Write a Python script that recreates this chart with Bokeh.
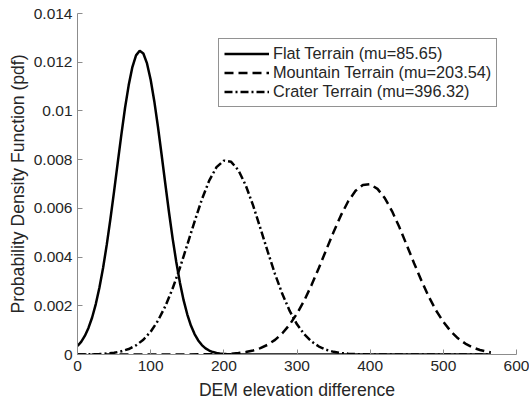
from bokeh.plotting import figure
from bokeh.models import FixedTicker, Legend, LegendItem, Range1d
from bokeh.embed import file_html
from bokeh.resources import INLINE

# ---- data ----
flat_x = [0, 5, 10, 15, 20, 25, 30, 35, 40, 45, 50, 55, 60, 65, 70, 75, 80, 85, 90, 95,
          100, 105, 110, 115, 120, 125, 130, 135, 140, 145, 150, 155, 160, 165, 170, 175,
          180, 185, 190, 195, 200, 210, 220, 565]
flat_y = [0.000347, 0.000521, 0.000763, 0.00109, 0.00152, 0.00207, 0.00275, 0.00356,
          0.00451, 0.00557, 0.0067, 0.00788, 0.00904, 0.01013, 0.01106, 0.0118, 0.01228,
          0.01247, 0.01236, 0.01195, 0.01128, 0.01039, 0.00934, 0.00819, 0.00701, 0.00585,
          0.00477, 0.0038, 0.00295, 0.00223, 0.00165, 0.00119, 0.00084, 0.000576, 0.000387,
          0.000253, 0.000162, 0.000101, 0.000061, 0.000036, 0.000021, 0.000006, 0.000002, 0.0]

# dash-dot curve (peak near 203)
dd_x = [0, 10, 20, 30, 40, 50, 60, 70, 80, 90, 100, 110, 120, 130, 140, 150, 160, 170, 180,
        190, 200, 210, 220, 230, 240, 250, 260, 270, 280, 290, 300, 310, 320, 330, 340, 350,
        360, 370, 380, 390, 400, 410, 420, 565]
dd_y = [0.000002, 0.0000044, 0.0000095, 0.0000193, 0.0000379, 0.0000715, 0.00013, 0.000225,
        0.000377, 0.000606, 0.000935, 0.00139, 0.00198, 0.00271, 0.00356, 0.0045, 0.00546,
        0.00637, 0.00714, 0.00769, 0.00796, 0.00791, 0.00756, 0.00694, 0.00612, 0.00518,
        0.00422, 0.0033, 0.00248, 0.00179, 0.00124, 0.000827, 0.00053, 0.000326, 0.000193,
        0.000109, 0.0000597, 0.0000313, 0.0000157, 0.0000076, 0.0000036, 0.0000016, 0.0, 0.0]

# dashed curve (peak near 396)
da_x = [0, 150, 200, 210, 220, 230, 240, 250, 260, 270, 280, 290, 300, 310, 320, 330, 340,
        350, 360, 370, 380, 390, 400, 410, 420, 430, 440, 450, 460, 470, 480, 490, 500, 510,
        520, 530, 540, 550, 560, 565]
da_y = [0.0, 0.0000006, 0.0000186, 0.0000335, 0.0000585, 0.0000993, 0.000163, 0.00026,
        0.000401, 0.0006, 0.000873, 0.00123, 0.00168, 0.00222, 0.00286, 0.00356, 0.0043,
        0.00503, 0.00571, 0.00629, 0.00672, 0.00696, 0.00699, 0.0068, 0.00642, 0.00588,
        0.00522, 0.00449, 0.00375, 0.00304, 0.00238, 0.00181, 0.00134, 0.000958, 0.000665,
        0.000447, 0.000292, 0.000185, 0.000113, 0.0000878]

legend_labels = ["Flat Terrain (mu=85.65)", "Mountain Terrain (mu=203.54)",
                 "Crater Terrain (mu=396.32)"]
x_ticks = [0, 100, 200, 300, 400, 500, 600]
y_ticks = [0, 0.002, 0.004, 0.006, 0.008, 0.01, 0.012, 0.014]
y_tick_labels = ["0", "0.002", "0.004", "0.006", "0.008", "0.01", "0.012", "0.014"]

FONT = "Liberation Sans"
TXT = "#262626"
AX = "#8c8c8c"

p = figure(width=529, height=405, output_backend="svg", toolbar_location=None,
           x_range=Range1d(0, 600), y_range=Range1d(0, 0.014),
           min_border_left=77, min_border_right=13, min_border_top=13, min_border_bottom=51)
p.outline_line_color = None
p.xgrid.visible = False
p.ygrid.visible = False
p.background_fill_color = "white"
p.border_fill_color = "white"

r_flat = p.line(flat_x, flat_y, line_color="black", line_width=2.5)
r_da = p.line(da_x, da_y, line_color="black", line_width=2.5, line_dash="9 5")
r_dd = p.line(dd_x, dd_y, line_color="black", line_width=2.5, line_dash="8 3 2 3")

for ax in (p.xaxis[0], p.yaxis[0]):
    ax.axis_line_color = AX
    ax.axis_line_width = 1
    ax.major_tick_line_color = AX
    ax.major_tick_in = 5
    ax.major_tick_out = 0
    ax.minor_tick_line_color = None
    ax.major_label_text_font = FONT
    ax.major_label_text_font_size = "15.5px"
    ax.major_label_text_color = TXT
    ax.axis_label_text_font = FONT
    ax.axis_label_text_font_size = "17.6px"
    ax.axis_label_text_font_style = "normal"
    ax.axis_label_text_color = TXT

p.xaxis[0].ticker = FixedTicker(ticks=x_ticks)
p.yaxis[0].ticker = FixedTicker(ticks=y_ticks)
p.yaxis[0].major_label_overrides = {t: s for t, s in zip(y_ticks, y_tick_labels)}
p.xaxis[0].axis_label = "DEM elevation difference"
p.yaxis[0].axis_label = "Probability Density Function (pdf)"
p.xaxis[0].major_label_standoff = 6
p.yaxis[0].major_label_standoff = 5
p.xaxis[0].axis_label_standoff = 6
p.yaxis[0].axis_label_standoff = 3

legend = Legend(items=[LegendItem(label=legend_labels[0], renderers=[r_flat]),
                       LegendItem(label=legend_labels[1], renderers=[r_da]),
                       LegendItem(label=legend_labels[2], renderers=[r_dd])],
                location=(141, 247))
legend.border_line_color = "#262626"
legend.border_line_width = 1
legend.background_fill_color = "white"
legend.background_fill_alpha = 1
legend.label_text_font = FONT
legend.label_text_font_size = "16.3px"
legend.label_text_color = TXT
legend.glyph_width = 45
legend.glyph_height = 17
legend.label_height = 17
legend.label_standoff = 4
legend.spacing = 0
legend.padding = 5
legend.margin = 0
p.add_layout(legend, "center")

open("out.html", "w").write(file_html(p, INLINE))
